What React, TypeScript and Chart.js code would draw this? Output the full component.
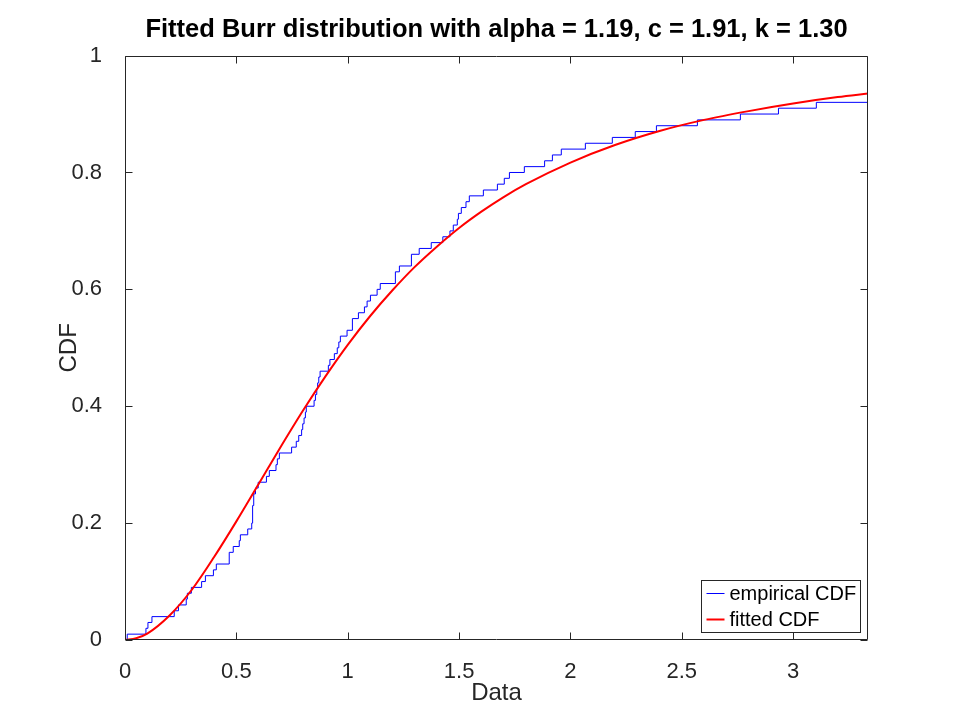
import React, { useEffect, useRef } from "react";
import Chart from "chart.js/auto";

const titleText = "Fitted Burr distribution with alpha = 1.19, c = 1.91, k = 1.30";
const xLabel = "Data";
const yLabel = "CDF";
const xMax = 3.336;

// empirical CDF: position of each jump and the level right after it
const stepX = [
  0.01, 0.094, 0.103, 0.121, 0.221, 0.24, 0.275, 0.28, 0.298, 0.344,
  0.361, 0.397, 0.41, 0.468, 0.486, 0.513, 0.518, 0.551, 0.569, 0.573,
  0.578, 0.586, 0.598, 0.635, 0.648, 0.678, 0.684, 0.693, 0.748, 0.769,
  0.78, 0.793, 0.798, 0.804, 0.81, 0.814, 0.849, 0.855, 0.861, 0.865,
  0.87, 0.876, 0.913, 0.92, 0.94, 0.953, 0.96, 0.967, 0.997, 1.021,
  1.048, 1.075, 1.087, 1.102, 1.132, 1.146, 1.214, 1.232, 1.286, 1.321,
  1.375, 1.427, 1.459, 1.474, 1.492, 1.497, 1.51, 1.531, 1.546, 1.609,
  1.672, 1.703, 1.726, 1.793, 1.884, 1.919, 1.959, 2.067, 2.188, 2.291,
  2.386, 2.57, 2.763, 2.934, 3.104,
];
const stepY = [
  0.01, 0.02, 0.03, 0.04, 0.05, 0.06, 0.07, 0.08, 0.09, 0.1,
  0.11, 0.12, 0.13, 0.15, 0.16, 0.17, 0.18, 0.19, 0.2, 0.23,
  0.25, 0.26, 0.27, 0.28, 0.29, 0.3, 0.31, 0.32, 0.33, 0.34,
  0.35, 0.36, 0.37, 0.38, 0.39, 0.4, 0.41, 0.42, 0.43, 0.44,
  0.45, 0.46, 0.47, 0.48, 0.49, 0.5, 0.51, 0.52, 0.53, 0.55,
  0.56, 0.57, 0.58, 0.59, 0.6, 0.61, 0.63, 0.64, 0.66, 0.67,
  0.68, 0.69, 0.7, 0.71, 0.72, 0.73, 0.74, 0.75, 0.76, 0.77,
  0.78, 0.79, 0.8, 0.81, 0.82, 0.83, 0.84, 0.85, 0.86, 0.87,
  0.88, 0.89, 0.9, 0.91, 0.92,
];

// fitted CDF
const fitX = [
  0, 0.05, 0.1, 0.2, 0.3, 0.4, 0.5, 0.6, 0.7, 0.8, 0.9, 1.0, 1.1, 1.2,
  1.3, 1.4, 1.5, 1.6, 1.7, 1.8, 2.0, 2.2, 2.4, 2.6, 2.8, 3.0, 3.2, 3.336,
];
const fitY = [
  0, 0.003, 0.011, 0.042, 0.086, 0.142, 0.203, 0.267, 0.331, 0.393, 0.451,
  0.505, 0.554, 0.598, 0.638, 0.673, 0.705, 0.733, 0.758, 0.78, 0.817,
  0.847, 0.871, 0.89, 0.905, 0.918, 0.929, 0.935,
];

const FONT = "'Liberation Sans', Arial, Helvetica, sans-serif";
const AXIS_COLOR = "#262626";

// "1" rather than "1.0", like octave prints it
const plainTick = (v: number | string) => String(Number(Number(v).toFixed(2)));

// octave style box with inward ticks on all four sides, plus the legend
const octaveFrame = {
  id: "octaveFrame",
  afterDraw(chart: any) {
    const { ctx, chartArea: a, scales } = chart;
    const L = Math.round(a.left) + 0.5;
    const R = Math.round(a.right) - 0.5;
    const T = Math.round(a.top) + 0.5;
    const B = Math.round(a.bottom) - 0.5;
    const tick = 7;

    ctx.save();
    ctx.strokeStyle = AXIS_COLOR;
    ctx.lineWidth = 1;
    ctx.beginPath();
    ctx.rect(L, T, R - L, B - T);
    scales.x.ticks.forEach((t: any) => {
      const px = Math.round(scales.x.getPixelForValue(t.value)) + 0.5;
      ctx.moveTo(px, B);
      ctx.lineTo(px, B - tick);
      ctx.moveTo(px, T);
      ctx.lineTo(px, T + tick);
    });
    scales.y.ticks.forEach((t: any) => {
      const py = Math.round(scales.y.getPixelForValue(t.value)) + 0.5;
      ctx.moveTo(L, py);
      ctx.lineTo(L + tick, py);
      ctx.moveTo(R, py);
      ctx.lineTo(R - tick, py);
    });
    ctx.stroke();

    // legend box, bottom right inside the axes
    const items = chart.data.datasets;
    ctx.font = `20px ${FONT}`;
    const textW = Math.max(...items.map((d: any) => ctx.measureText(d.label).width));
    const lineLen = 18;
    const rowH = 26;
    const boxW = Math.round(5 + lineLen + 5 + textW + 4);
    const boxH = rowH * items.length;
    const bx = Math.round(a.right - 8 - boxW) + 0.5;
    const by = Math.round(a.bottom - 8 - boxH) + 0.5;
    ctx.fillStyle = "#ffffff";
    ctx.fillRect(bx, by, boxW, boxH);
    ctx.strokeStyle = AXIS_COLOR;
    ctx.strokeRect(bx, by, boxW, boxH);
    items.forEach((d: any, i: number) => {
      const cy = by + 13 + i * rowH;
      ctx.strokeStyle = d.borderColor;
      ctx.lineWidth = d.borderWidth;
      ctx.beginPath();
      ctx.moveTo(bx + 5, cy);
      ctx.lineTo(bx + 5 + lineLen, cy);
      ctx.stroke();
      ctx.fillStyle = "#000000";
      ctx.textAlign = "left";
      ctx.textBaseline = "middle";
      ctx.fillText(d.label, bx + 5 + lineLen + 5, cy + 1);
    });
    ctx.restore();
  },
};

export default function App() {
  const canvasRef = useRef<HTMLCanvasElement | null>(null);
  const chartRef = useRef<Chart | null>(null);

  useEffect(() => {
    const canvas = canvasRef.current;
    if (!canvas) return;

    if (chartRef.current) {
      chartRef.current.destroy();
    }

    const ecdfPoints = [
      { x: 0, y: 0 },
      ...stepX.map((x, i) => ({ x, y: stepY[i] })),
      { x: xMax, y: stepY[stepY.length - 1] },
    ];
    const fitPoints = fitX.map((x, i) => ({ x, y: fitY[i] }));

    chartRef.current = new Chart(canvas, {
      type: "line",
      data: {
        datasets: [
          {
            label: "empirical CDF",
            data: ecdfPoints,
            borderColor: "#0000ff",
            borderWidth: 1,
            stepped: "before",
            pointRadius: 0,
            fill: false,
            order: 2,
          },
          {
            label: "fitted CDF",
            data: fitPoints,
            borderColor: "#ff0000",
            borderWidth: 2,
            cubicInterpolationMode: "monotone",
            pointRadius: 0,
            fill: false,
            order: 1,
          },
        ],
      },
      options: {
        animation: false,
        responsive: false,
        layout: { padding: { left: 0, right: 92, top: 0, bottom: 0 } },
        plugins: {
          legend: { display: false },
          tooltip: { enabled: false },
          title: {
            display: true,
            text: titleText,
            fullSize: false,
            color: "#000000",
            font: { family: FONT, size: 25.5, weight: "bold" },
            padding: { top: 15, bottom: 10 },
          },
        },
        scales: {
          x: {
            type: "linear",
            min: 0,
            max: xMax,
            afterFit: (s: any) => {
              s.height = 80;
            },
            grid: { display: false },
            border: { display: false },
            ticks: {
              stepSize: 0.5,
              includeBounds: false,
              autoSkip: false,
              maxRotation: 0,
              padding: 11,
              color: AXIS_COLOR,
              font: { family: FONT, size: 22 },
              callback: plainTick,
            },
            title: {
              display: true,
              text: xLabel,
              color: AXIS_COLOR,
              font: { family: FONT, size: 24 },
              padding: { top: 0, bottom: 12 },
            },
          },
          y: {
            type: "linear",
            min: 0,
            max: 1,
            afterFit: (s: any) => {
              s.width = 125;
            },
            grid: { display: false },
            border: { display: false },
            ticks: {
              stepSize: 0.2,
              padding: 15,
              color: AXIS_COLOR,
              font: { family: FONT, size: 22 },
              callback: plainTick,
            },
            title: {
              display: true,
              text: yLabel,
              color: AXIS_COLOR,
              font: { family: FONT, size: 24 },
              padding: { top: 55, bottom: 0 },
            },
          },
        },
      },
      plugins: [octaveFrame],
    });

    return () => {
      if (chartRef.current) {
        chartRef.current.destroy();
        chartRef.current = null;
      }
    };
  }, []);

  return (
    <div
      style={{
        position: "fixed",
        left: 0,
        top: 0,
        width: 960,
        height: 720,
        background: "#ffffff",
      }}
    >
      <canvas ref={canvasRef} width={960} height={720} />
    </div>
  );
}
